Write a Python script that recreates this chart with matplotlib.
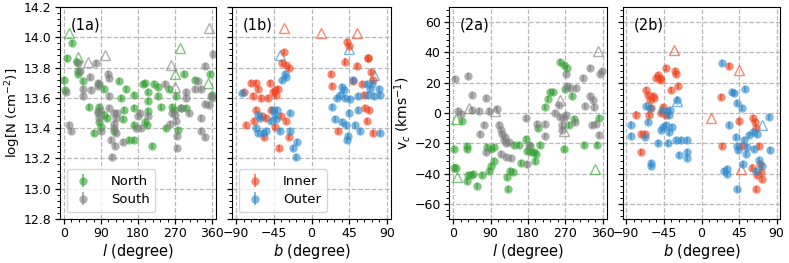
import numpy as np
import matplotlib
matplotlib.use("Agg")
import matplotlib.pyplot as plt
from matplotlib.ticker import AutoMinorLocator

# ---------------- Panel (1a): logN vs l ----------------
north_l = [0, 2, 8, 20, 31, 34, 35, 45, 61, 72, 86, 86, 83, 86, 90, 98, 98, 122, 134, 139, 147,
           151, 159, 171, 170, 170, 171, 192, 196, 196, 204, 204, 204, 202, 213, 220, 228, 228,
           236, 248, 256, 264, 268, 273, 277, 285, 292, 297, 318, 355, 360, 143, 104]
north_logN = [13.72, 13.65, 13.86, 13.96, 13.84, 13.78, 13.76, 13.71, 13.54, 13.37, 13.69, 13.54,
              13.51, 13.44, 13.41, 13.49, 13.66, 13.38, 13.71, 13.60, 13.52, 13.66, 13.32, 13.32,
              13.62, 13.53, 13.42, 13.69, 13.70, 13.44, 13.58, 13.64, 13.51, 13.42, 13.28, 13.69,
              13.67, 13.61, 13.54, 13.40, 13.66, 13.54, 13.52, 13.61, 13.39, 13.53, 13.76, 13.53,
              13.72, 13.76, 13.62, 13.46, 13.47]
north_tri_l = [12, 34, 283, 271, 350]
north_tri_logN = [14.03, 13.87, 13.93, 13.76, 13.70]

south_l = [4, 12, 18, 34, 39, 45, 47, 64, 65, 77, 83, 83, 83, 88, 86, 91, 106, 110, 110, 110, 114,
           116, 122, 122, 122, 126, 125, 127, 130, 143, 175, 181, 186, 188, 204, 245, 257, 262,
           269, 273, 276, 276, 285, 297, 297, 304, 318, 326, 334, 334, 334, 342, 342, 344, 352,
           357, 360, 363]
south_logN = [13.64, 13.42, 13.38, 13.83, 13.78, 13.66, 13.61, 13.74, 13.65, 13.83, 13.70, 13.68,
              13.50, 13.52, 13.47, 13.38, 13.76, 13.73, 13.61, 13.53, 13.32, 13.21, 13.50, 13.43,
              13.40, 13.37, 13.28, 13.47, 13.50, 13.31, 13.40, 13.48, 13.50, 13.40, 13.48, 13.69,
              13.43, 13.50, 13.49, 13.45, 13.35, 13.27, 13.53, 13.60, 13.64, 13.50, 13.66, 13.71,
              13.66, 13.47, 13.38, 13.81, 13.56, 13.34, 13.55, 13.61, 13.60, 13.89]
south_tri_l = [59, 100, 261, 269, 354]
south_tri_logN = [13.84, 13.88, 13.82, 13.67, 14.06]

# ---------------- Panel (1b): logN vs b ----------------
inner_b = [-81, -78, -72, -70, -66, -64, -66, -69, -60, -59, -57, -54, -52, -50, -48, -46, -44,
           -42, -40, -44, -39, -35, -33, -31, -30, -27, -27, -37, 23, 24, 32, 40, 43, 45, 49, 54,
           60, 63, 64, 66, 67, 68, 69, 71, 73, 73]
inner_logN = [13.64, 13.42, 13.70, 13.61, 13.70, 13.66, 13.52, 13.45, 13.60, 13.48, 13.34, 13.47,
              13.60, 13.70, 13.52, 13.64, 13.65, 13.62, 13.66, 13.41, 13.27, 13.83, 13.90, 13.82,
              13.45, 13.80, 13.34, 13.48, 13.76, 13.68, 13.38, 13.84, 13.97, 13.94, 13.71, 13.81,
              13.69, 13.62, 13.53, 13.45, 13.86, 13.86, 13.52, 13.77, 13.72, 13.37]
inner_tri_b = [-33, 11, 54]
inner_tri_logN = [14.06, 14.03, 14.03]

outer_b = [-83, -64, -62, -66, -64, -58, -54, -48, -46, -44, -41, -42, -38, -35, -32, -30, -26,
           -26, -22, -18, -17, 24, 28, 31, 34, 36, 37, 39, 40, 41, 44, 43, 45, 46, 50, 52, 56, 56,
           58, 66, 67, 70, 72, 75, 81, 82, 82]
outer_logN = [13.63, 13.49, 13.47, 13.40, 13.37, 13.37, 13.38, 13.45, 13.52, 13.49, 13.52, 13.46,
              13.38, 13.72, 13.76, 13.74, 13.50, 13.38, 13.27, 13.21, 13.31, 13.54, 13.46, 13.60,
              13.62, 13.67, 13.44, 13.65, 13.60, 13.42, 13.35, 13.32, 13.50, 13.59, 13.72, 13.42,
              13.61, 13.52, 13.38, 13.69, 13.62, 13.66, 13.69, 13.61, 13.66, 13.62, 13.37]
outer_tri_b = [-38, 45, 75]
outer_tri_logN = [13.88, 13.92, 13.75]

# ---------------- Panel (2a): vc vs l ----------------
north_vl = [2, 2, 8, 22, 33, 33, 33, 36, 44, 47, 58, 70, 82, 86, 90, 92, 98, 98, 130, 132, 137,
            143, 146, 158, 164, 176, 178, 186, 188, 194, 196, 204, 200, 210, 222, 228, 234, 240,
            256, 266, 268, 267, 274, 278, 286, 290, 314, 346, 351]
north_vc = [-23.6, -36, -36, -5, -22, -24, -45, -41, -41, -40, -48, -41, -22.4, -38, -35, -23.6,
            -22.4, -32, -42, -50, -38, -39, -21, -21, -33, -17, -25, -22, -26, -26, -32, -10, -27,
            -21, 4, 9, 14, 14, 33.6, 32, 16, -23.6, 30, -8, 11, -4, -21, -21, -3]
north_tri_vl = [10, 6, 340]
north_tri_vc = [-42, -4, -37]

south_vl = [4, 12, 18, 36, 45, 46, 62, 65, 73, 80, 80, 86, 106, 110, 114, 116, 118, 122, 124, 128,
            126, 134, 138, 174, 178, 182, 202, 222, 222, 246, 254, 257, 261, 262, 266, 271, 272,
            274, 282, 294, 296, 312, 318, 329, 328, 334, 336, 339, 344, 350, 354, 357]
south_vc = [22.7, 1, -0.7, 24.7, 11.6, 2, 1.3, -13.6, -8, 10, -26, 1, 2.4, -8, -11, -27, -13.6,
            -18, -16, -20, -29, -19, -30, -3, -34, -21, -7, -15, -7, 0, 5, -2.4, -8, -11, -3.6, -1.3,
            26, 17.6, 16.4, -5.8, 16.4, 23, 4.7, 29.8, 11, -8, 8.7, 4.2, -7, -14.7, 25.8, 27.5]
south_tri_vl = [38, 100, 256, 267, 348]
south_tri_vc = [3, 1.3, 8.7, -12, 41]

# ---------------- Panel (2b): vc vs b ----------------
inner_vb = [-79, -72, -73, -68, -67, -64, -63, -62, -58, -57, -60, -55, -52, -50, -48, -43, -48,
            -46, -42, -36, -32, -31, -28, 24, 23, 33, 45, 62, 64, 65, 49, 61, 66, 70, 71, 72, 65, 69]
inner_vc = [-1, -13.6, -26, -13.6, 15.3, 12, -1.3, 8.7, 11, 9.8, 3, 23, 25, 23, 22, 30, -0.2, 4,
            -1.3, 15.3, 27.5, 26, 18, -22, 10.4, 31, -5, -3.6, -5.8, -10, -22, -36, -41, -33.6,
            -39, -43.5, -50, -22]
inner_tri_vb = [-33, 45, 11, 47]
inner_tri_vc = [41.5, 28.7, -3.6, -37]

outer_vb = [-84, -84, -68, -66, -62, -64, -61, -60, -52, -48, -47, -46, -43, -41, -39, -39, -40,
            -38, -35, -31, -29, -27, -25, -17, -17, -17, 24, 27, 31, 30, 33, 36, 39, 41, 42, 43, 44,
            48, 51, 52, 50, 53, 55, 57, 62, 63, 65, 67, 69, 72, 81, 82, 42]
outer_vc = [-7.6, -15.3, -16, 4.7, 3, -5.8, -33, -35, -20, -11, 2, -9, -8, 1, -1.3, -12.4, -20, 2,
            -9, -18, 8.7, -28, -18, -18, -26, -30, 33, -38, -37, -40, -8, 14, 13, -15.8, -22, 6.4,
            -24.7, 3, -18, 15.8, -33.6, -27, -22.4, -14.7, -12.4, -23.6, -38, -13.6, -31, -34.7,
            -2.4, -24.7, -50]
outer_tri_vb = [-29, 73]
outer_tri_vc = [8.2, -8]

# ---------------- Styling ----------------
C_N = "#35a335"
C_S = "#808080"
C_I = "#f0441f"
C_O = "#2e8bcc"
ALPHA = 0.62

W, H = 789, 263
fig = plt.figure(figsize=(W / 100, H / 100), dpi=100)


def axes_px(x0, x1, y0, y1):
    return fig.add_axes([x0 / W, 1 - y1 / H, (x1 - x0) / W, (y1 - y0) / H])


ax1a = axes_px(60, 216, 7, 219)
ax1b = axes_px(232, 391, 7, 219)
ax2a = axes_px(449, 607, 7, 219)
ax2b = axes_px(623, 780, 7, 219)


def plot_group(ax, x, y, tx, ty, color, label, yerr):
    h = ax.errorbar(x, y, yerr=yerr, fmt="o", color=color, ms=6.0, alpha=ALPHA,
                    elinewidth=1.4, capsize=0, mec="none", label=label)
    ax.plot(tx, ty, "^", mfc="none", mec=color, ms=6.5, mew=1.0, alpha=ALPHA,
            linestyle="none")
    return h


def style(ax, xlim, ylim, xticks, yticks, ylabel_on, xlabel, panel):
    ax.set_xlim(*xlim)
    ax.set_ylim(*ylim)
    ax.set_xticks(xticks)
    ax.set_yticks(yticks)
    ax.xaxis.set_minor_locator(AutoMinorLocator(5))
    ax.yaxis.set_minor_locator(AutoMinorLocator(5))
    ax.grid(True, which="major", linestyle="--", color="#b8b8b8", linewidth=0.9)
    ax.set_axisbelow(True)
    ax.tick_params(which="major", length=3.5, width=0.9, labelsize=9, pad=2.5, direction="out")
    ax.tick_params(which="minor", length=2, width=0.7, direction="out")
    ax.set_xlabel(xlabel, fontsize=10.5, labelpad=1)
    if not ylabel_on:
        ax.tick_params(axis="y", labelleft=False)
    ax.text(0.07, 0.95, panel, transform=ax.transAxes, fontsize=10.5, va="top", ha="left")


err_N = 0.02
err_v = 2.0

leg_kw = dict(loc="lower left", fontsize=9.5, handletextpad=1.3, borderpad=0.45,
              labelspacing=0.4, handlelength=1.6, borderaxespad=0.5)

plot_group(ax1a, north_l, north_logN, north_tri_l, north_tri_logN, C_N, "North", err_N)
plot_group(ax1a, south_l, south_logN, south_tri_l, south_tri_logN, C_S, "South", err_N)
yt1 = np.round(np.arange(12.8, 14.21, 0.2), 1)
style(ax1a, (-10, 370), (12.8, 14.2), [0, 90, 180, 270, 360], yt1, True,
      r"$l$ (degree)", "(1a)")
ax1a.set_yticklabels([f"{v:.1f}" for v in yt1])
ax1a.set_ylabel(r"log[N (cm$^{-2}$)]", fontsize=9.5, labelpad=1)
ax1a.legend(**leg_kw)

plot_group(ax1b, inner_b, inner_logN, inner_tri_b, inner_tri_logN, C_I, "Inner", err_N)
plot_group(ax1b, outer_b, outer_logN, outer_tri_b, outer_tri_logN, C_O, "Outer", err_N)
style(ax1b, (-95, 95), (12.8, 14.2), [-90, -45, 0, 45, 90], yt1, False,
      r"$b$ (degree)", "(1b)")
ax1b.legend(**leg_kw)

yt2 = [-60, -40, -20, 0, 20, 40, 60]
plot_group(ax2a, north_vl, north_vc, north_tri_vl, north_tri_vc, C_N, "North", err_v)
plot_group(ax2a, south_vl, south_vc, south_tri_vl, south_tri_vc, C_S, "South", err_v)
style(ax2a, (-10, 370), (-70, 70), [0, 90, 180, 270, 360], yt2, True,
      r"$l$ (degree)", "(2a)")
ax2a.set_ylabel(r"v$_c$ (kms$^{-1}$)", fontsize=10, labelpad=1)

plot_group(ax2b, inner_vb, inner_vc, inner_tri_vb, inner_tri_vc, C_I, "Inner", err_v)
plot_group(ax2b, outer_vb, outer_vc, outer_tri_vb, outer_tri_vc, C_O, "Outer", err_v)
style(ax2b, (-94, 94), (-70, 70), [-90, -45, 0, 45, 90], yt2, False,
      r"$b$ (degree)", "(2b)")

fig.savefig("out.png", dpi=100)
